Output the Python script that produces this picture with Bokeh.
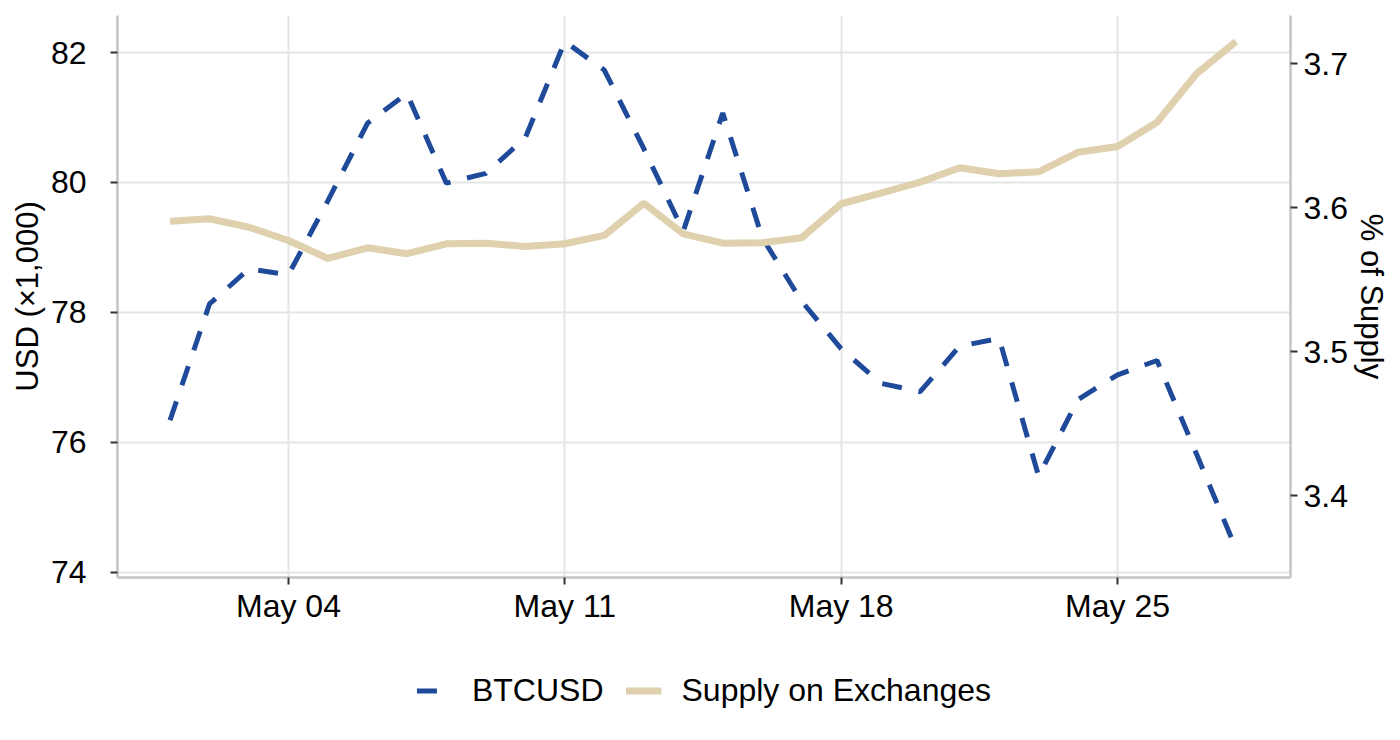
from datetime import datetime, timedelta

import pandas as pd
from bokeh.embed import file_html
from bokeh.layouts import column
from bokeh.models import (ColumnDataSource, DatetimeTickFormatter, FixedTicker,
                          Legend, LegendItem, LinearAxis, Range1d)
from bokeh.plotting import figure
from bokeh.resources import INLINE

# daily values, May 1 .. May 28
dates = pd.date_range("2025-05-01", periods=28, freq="D")
btc_usd = [76.34, 78.13, 78.67, 78.58, 79.72, 80.91, 81.37, 79.99, 80.14,
           80.69, 82.17, 81.73, 80.52, 79.25, 81.07, 79.15, 78.17, 77.44,
           76.91, 76.78, 77.48, 77.60, 75.48, 76.66, 77.04, 77.26, 75.82,
           74.36]
supply_pct = [3.5907, 3.5924, 3.5865, 3.5773, 3.5648, 3.5722, 3.5681,
              3.5750, 3.5754, 3.5731, 3.5750, 3.5808, 3.6032, 3.5819,
              3.5754, 3.5757, 3.5792, 3.6028, 3.6101, 3.6178, 3.6278,
              3.6236, 3.6250, 3.6386, 3.6426, 3.6594, 3.6931, 3.7155]
date_ticks = ["2025-05-04", "2025-05-11", "2025-05-18", "2025-05-25"]
usd_ticks = [74, 76, 78, 80, 82]
supply_ticks = [3.4, 3.5, 3.6, 3.7]

BLUE = "#1F4A9A"
BEIGE = "#DFD0AE"
FONT = "Liberation Sans"
FS = "32px"
W = 1392
RB = W - 1290

src = ColumnDataSource(dict(date=dates, btc=btc_usd, supply=supply_pct))

x_start = datetime(2025, 5, 4) - timedelta(days=4.33)
x_end = datetime(2025, 5, 25) + timedelta(days=4.38)

p = figure(width=W, height=656, x_axis_type="datetime",
           x_range=Range1d(x_start, x_end), y_range=Range1d(73.92, 82.57),
           output_backend="svg", toolbar_location=None,
           min_border_left=117, min_border_right=RB,
           min_border_top=15, min_border_bottom=79)
p.outline_line_color = None
p.extra_y_ranges = {"supply": Range1d(3.3433, 3.7335)}

btc_style = dict(line_color=BLUE, line_width=5, line_dash="20 17")
sup_style = dict(line_color=BEIGE, line_width=7)
p.line("date", "btc", source=src, **btc_style)
p.line("date", "supply", source=src, y_range_name="supply", **sup_style)

right = LinearAxis(y_range_name="supply", axis_label="% of Supply")
p.add_layout(right, "right")

p.xaxis.ticker = FixedTicker(ticks=[pd.Timestamp(d).value / 1e6 for d in date_ticks])
p.xaxis.formatter = DatetimeTickFormatter(days="%b %d", months="%b %d")
p.yaxis[0].ticker = FixedTicker(ticks=usd_ticks)
p.yaxis[0].axis_label = "USD (×1,000)"
right.ticker = FixedTicker(ticks=supply_ticks)

for ax in [p.xaxis[0], p.yaxis[0], right]:
    ax.axis_line_color = "#C4C4C4"
    ax.axis_line_width = 2.5
    ax.major_tick_line_color = "#333333"
    ax.major_tick_line_width = 2
    ax.major_tick_out = 7
    ax.major_tick_in = 0
    ax.minor_tick_line_color = None
    ax.major_label_text_font = FONT
    ax.major_label_text_font_size = FS
    ax.major_label_text_color = "black"
    ax.axis_label_text_font = FONT
    ax.axis_label_text_font_size = "31px"
    ax.axis_label_text_font_style = "normal"
    ax.axis_label_text_color = "black"

p.xaxis.major_label_standoff = 3
p.yaxis[0].major_label_standoff = 24
p.yaxis[0].axis_label_standoff = 3
right.major_label_standoff = 6
right.axis_label_standoff = 3

p.xgrid.grid_line_color = "#E5E5E5"
p.xgrid.grid_line_width = 2
p.ygrid.grid_line_color = "#E5E5E5"
p.ygrid.grid_line_width = 2

# strip under the chart that only carries the legend
leg = figure(width=W, height=68, x_range=p.x_range, y_range=Range1d(-10, -9),
             output_backend="svg", toolbar_location=None,
             x_axis_location=None, y_axis_location=None,
             min_border_left=117, min_border_right=RB,
             min_border_top=0, min_border_bottom=0)
leg.outline_line_color = None
leg.grid.visible = False
l_btc = leg.line("date", "btc", source=src, **btc_style)
l_sup = leg.line("date", "supply", source=src, **sup_style)

legend = Legend(items=[LegendItem(label="BTCUSD", renderers=[l_btc]),
                       LegendItem(label="Supply on Exchanges", renderers=[l_sup])],
                orientation="horizontal", location="center",
                glyph_width=36, glyph_height=20, label_standoff=20, spacing=22,
                padding=0, margin=0, border_line_color=None,
                background_fill_alpha=0, label_text_font=FONT,
                label_text_font_size=FS, label_text_color="black")
leg.add_layout(legend, "center")

open("out.html", "w").write(file_html(column(p, leg), INLINE))
